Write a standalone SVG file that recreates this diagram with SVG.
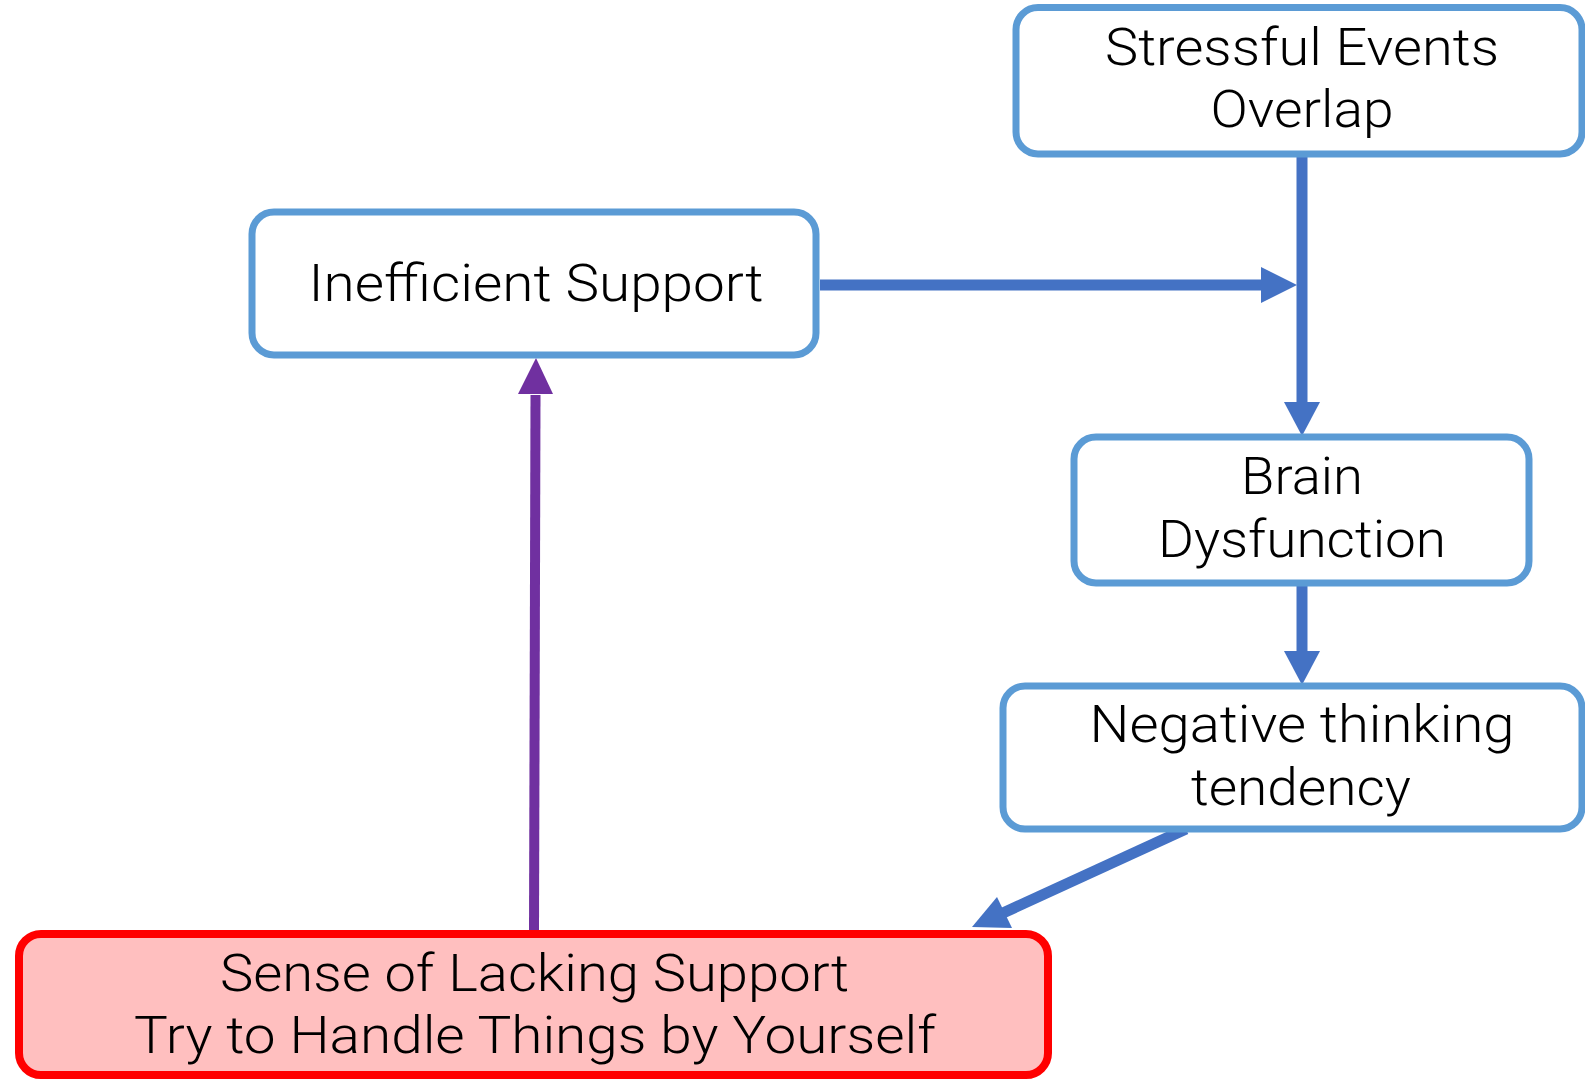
<svg xmlns="http://www.w3.org/2000/svg" width="1585" height="1081" viewBox="0 0 1585 1081">
  <style>
    .box { fill: #FFFFFF; stroke: #5B9BD5; stroke-width: 7; }
    .hot { fill: #FFBFBF; stroke: #FF0000; stroke-width: 8; }
    .lbl { font-family: Roboto, "Noto Sans", sans-serif; font-weight: 300; font-size: 52.5px; fill: #000000; text-anchor: middle; }
    .wire { stroke: #4472C4; stroke-width: 11; fill: none; stroke-linecap: butt; }
    .head { fill: #4472C4; }
    .wire2 { stroke: #7030A0; stroke-width: 10; fill: none; stroke-linecap: butt; }
    .head2 { fill: #7030A0; }
  </style>
  <rect width="1585" height="1081" fill="#FFFFFF"/>

  <!-- connectors -->
  <g id="connectors">
    <!-- Inefficient Support -> main line -->
    <line class="wire" x1="820" y1="285" x2="1263" y2="285"/>
    <polygon class="head" points="1261,267 1297,285 1261,303"/>
    <!-- Stressful Events Overlap -> Brain Dysfunction -->
    <line class="wire" x1="1302" y1="157" x2="1302" y2="404"/>
    <polygon class="head" points="1284,402 1320,402 1302,436"/>
    <!-- Brain Dysfunction -> Negative thinking tendency -->
    <line class="wire" x1="1302" y1="586" x2="1302" y2="653"/>
    <polygon class="head" points="1284,651 1320,651 1302,685"/>
    <!-- Negative thinking tendency -> Sense of Lacking Support -->
    <line class="wire" x1="1186" y1="829" x2="1003" y2="913"/>
    <polygon class="head" points="997,897 1012,928 972,927"/>
    <!-- Sense of Lacking Support -> Inefficient Support -->
    <line class="wire2" x1="534" y1="932" x2="535.5" y2="395"/>
    <polygon class="head2" points="518,394 553,394 536,358"/>
  </g>

  <g id="stressful">
    <rect class="box" x="1016" y="7.5" width="566" height="146.5" rx="22"/>
    <text class="lbl" x="1302" y="65" textLength="394" lengthAdjust="spacingAndGlyphs">Stressful Events</text>
    <text class="lbl" x="1302" y="127" textLength="183" lengthAdjust="spacingAndGlyphs">Overlap</text>
  </g>

  <g id="inefficient">
    <rect class="box" x="252" y="212" width="564" height="143" rx="22"/>
    <text class="lbl" x="536" y="301" textLength="455" lengthAdjust="spacingAndGlyphs">Inefficient Support</text>
  </g>

  <g id="brain">
    <rect class="box" x="1074" y="437" width="455" height="146" rx="22"/>
    <text class="lbl" x="1302" y="494" textLength="122" lengthAdjust="spacingAndGlyphs">Brain</text>
    <text class="lbl" x="1302" y="557" textLength="288" lengthAdjust="spacingAndGlyphs">Dysfunction</text>
  </g>

  <g id="negative">
    <rect class="box" x="1003" y="686" width="579" height="143" rx="22"/>
    <text class="lbl" x="1302" y="742" textLength="425" lengthAdjust="spacingAndGlyphs">Negative thinking</text>
    <text class="lbl" x="1301" y="805" textLength="220" lengthAdjust="spacingAndGlyphs">tendency</text>
  </g>

  <g id="lacking">
    <rect class="hot" x="19" y="934" width="1029" height="141" rx="22"/>
    <text class="lbl" x="534.5" y="991" textLength="629" lengthAdjust="spacingAndGlyphs">Sense of Lacking Support</text>
    <text class="lbl" x="535" y="1053" textLength="802" lengthAdjust="spacingAndGlyphs">Try to Handle Things by Yourself</text>
  </g>
</svg>
